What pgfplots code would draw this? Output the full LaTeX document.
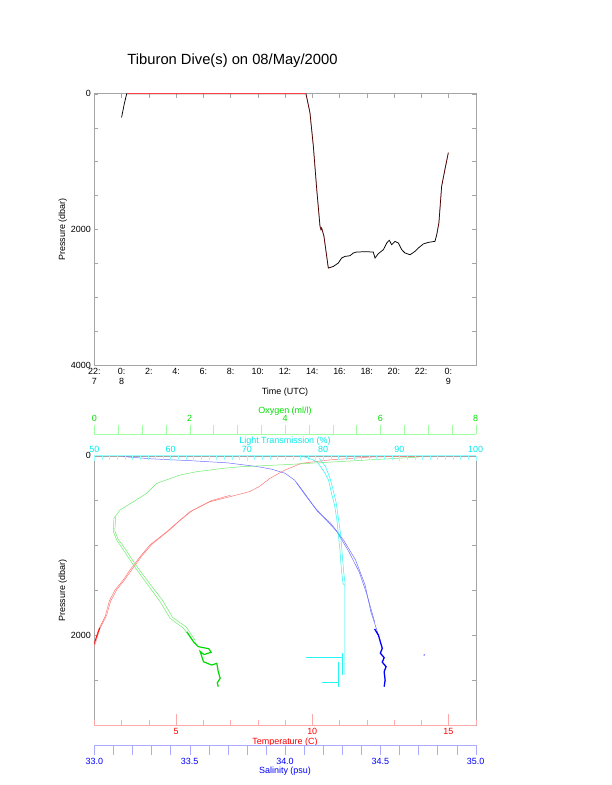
\documentclass[border=0pt]{standalone}
\usepackage{pgfplots}
\pgfplotsset{compat=1.18}
\usepackage{fontspec}
\setmainfont{Liberation Sans}
\definecolor{axgray}{RGB}{165,165,165}
\definecolor{templine}{RGB}{255,170,170}
\definecolor{templab}{RGB}{255,0,0}
\definecolor{tempdata}{RGB}{255,120,120}
\definecolor{oxyline}{RGB}{160,255,160}
\definecolor{oxylab}{RGB}{0,225,0}
\definecolor{oxydata}{RGB}{110,235,110}
\definecolor{salline}{RGB}{170,170,255}
\definecolor{sallab}{RGB}{0,0,255}
\definecolor{saldata}{RGB}{110,110,255}
\definecolor{lightline}{RGB}{150,255,255}
\definecolor{lightlab}{RGB}{0,235,235}
\definecolor{lightdata}{RGB}{40,245,245}
\begin{document}
\begin{tikzpicture}
\useasboundingbox (0,0) rectangle (612bp,785bp);
\pgfplotsset{every axis/.append style={scale only axis, font=\fontsize{9}{10}\selectfont,
  /pgf/number format/assume math mode=true, /pgf/number format/1000 sep={}},
  botbox/.style={at={(94.3bp,60bp)}, anchor=south west, width=381.4bp, height=269.3bp,
  ymin=0, ymax=3000, y dir=reverse}}
\node[font=\fontsize{14.8}{16}\selectfont] at (232.5bp,724.3bp) {Tiburon Dive(s) on 08/May/2000};

% ---------- top plot ----------
\begin{axis}[at={(94.3bp,420bp)}, anchor=south west, width=381.4bp, height=271.3bp,
  xmin=-2, xmax=26, ymin=0, ymax=4000, y dir=reverse,
  axis line style={axgray},
  xtick={-2,0,...,24},
  xticklabels={{22:\\7},{0:\\8},{2:},{4:},{6:},{8:},{10:},{12:},{14:},{16:},{18:},{20:},{22:},{0:\\9}},
  xticklabel style={align=center},
  xtick pos=top, xticklabel pos=bottom,
  ytick={0,2000,4000}, minor ytick={500,1000,1500,2500,3000,3500},
  tick align=inside, major tick length=4bp, minor tick length=4bp, tick style={axgray},
  xlabel={Time (UTC)}, ylabel={Pressure (dbar)},
  every axis x label/.style={at={(axis description cs:0.5,-0.1006)}, anchor=center},
  every axis y label/.style={at={(axis description cs:-0.0829,0.5)}, anchor=center, rotate=90},
]
\addplot[black, line width=0.75pt] coordinates {
(0,350)(0.2,150)(0.38,0)(13.54,0)(13.83,278)(14.08,772)(14.33,1412)(14.57,1955)(14.64,2004)
(14.69,1979)(14.86,2103)(15.18,2571)(15.35,2560)(15.55,2547)(15.91,2497)(16.16,2423)(16.40,2399)
(16.77,2389)(17.01,2349)(17.26,2334)(17.9,2330)(18.48,2334)(18.61,2423)(18.85,2359)(19.22,2300)
(19.47,2201)(19.66,2162)(19.83,2226)(20.07,2177)(20.32,2201)(20.57,2300)(20.81,2349)(21.18,2374)
(21.54,2325)(21.79,2275)(22.15,2216)(22.52,2192)(23.01,2177)(23.14,2078)(23.30,1900)(23.50,1364)
(23.74,1117)(23.99,870)};
\addplot[red!75, line width=0.8pt] coordinates {(0.38,0)(13.54,0)};
\addplot[red, opacity=0.45, line width=0.5pt] coordinates {
(13.54,0)(13.83,278)(14.08,772)(14.33,1412)(14.57,1955)(14.64,2004)(14.69,1979)(14.86,2103)(15.18,2571)};
\addplot[red, opacity=0.45, line width=0.5pt] coordinates {
(23.14,2078)(23.30,1900)(23.50,1364)(23.74,1117)(23.99,870)};
\end{axis}

% ---------- bottom plot: main box ----------
\begin{axis}[botbox, xmin=0, xmax=1,
  axis line style={axgray}, xtick=\empty,
  ytick={0,2000}, minor ytick={500,1000,1500,2500},
  tick align=inside, major tick length=4bp, minor tick length=4bp, tick style={axgray},
  ylabel={Pressure (dbar)},
  every axis y label/.style={at={(axis description cs:-0.0829,0.5)}, anchor=center, rotate=90},
]
\end{axis}

% temperature data + axis
\begin{axis}[botbox, xmin=2, xmax=16, hide y axis, axis x line*=bottom,
  x axis line style={draw=templine,-},
  xtick={5,10,15}, minor xtick={2,3,...,16},
  tick align=inside, major tick length=11bp, minor tick length=5bp, tick style={draw=templine},
  xticklabel style={text=templab},
  xlabel={Temperature (C)},
  every axis x label/.style={at={(axis description cs:0.5,0)}, anchor=center, yshift=-16.7bp, text=templab},
]
\addplot[tempdata, line width=0.5pt] coordinates {
(14.4,0)(13.9,5)(12.1,15)(10.6,48)(9.6,85)(9.0,160)(8.45,252)(8.05,345)(7.7,400)(6.98,457)
(6.25,512)(5.51,624)(5.08,735)(4.66,847)(4.04,995)(3.68,1125)(3.31,1273)(3.06,1385)(2.76,1496)
(2.55,1620)(2.4,1790)(2.15,1942)(2.0,2090)(1.8,2300)(1.6,2600)};
\addplot[tempdata, line width=0.5pt] coordinates {
(7.0,440)(6.3,500)(5.6,610)(5.15,720)(4.75,830)(4.12,985)(3.76,1110)(3.4,1260)(3.12,1380)
(2.83,1490)(2.6,1620)(2.45,1780)(2.2,1930)(2.05,2080)(1.9,2200)};
\addplot[red, line width=0.8pt] coordinates {(2.2,1920)(2.1,2000)(2.0,2090)(1.9,2200)};
\end{axis}

% salinity data
\begin{axis}[botbox, xmin=33, xmax=35, hide axis]
\addplot[saldata, line width=0.5pt] coordinates {
(33.15,10)(33.3,35)(33.5,55)(33.7,80)(33.85,120)(33.93,150)(34.0,196)(34.05,271)(34.09,382)
(34.13,500)(34.17,620)(34.24,753)(34.31,950)(34.37,1162)(34.42,1440)(34.45,1738)(34.49,1997)};
\addplot[saldata, line width=0.5pt] coordinates {
(34.06,300)(34.1,420)(34.15,560)(34.2,680)(34.27,840)(34.33,1050)(34.39,1300)(34.43,1550)(34.47,1850)};
\addplot[blue, line width=1.3pt] coordinates {
(34.47,1930)(34.49,2000)(34.51,2146)(34.5,2200)(34.52,2250)(34.51,2300)(34.53,2350)(34.52,2406)
(34.525,2500)(34.52,2573)};
\addplot[only marks, mark=*, mark size=0.5pt, saldata] coordinates {(34.73,2220)};
\end{axis}

% oxygen data
\begin{axis}[botbox, xmin=0, xmax=8, hide axis]
\addplot[oxydata, line width=0.5pt] coordinates {
(6.8,15)(6.0,40)(5.0,70)(4.0,100)(3.1,122)(2.7,141)(2.15,178)(1.8,215)(1.31,308)(1.10,419)
(0.82,512)(0.54,605)(0.41,697)(0.40,847)(0.47,939)(0.61,1050)(0.82,1218)(1.10,1422)(1.38,1626)
(1.59,1812)(1.87,1923)(2.08,2072)};
\addplot[oxydata, line width=0.5pt] coordinates {
(0.45,680)(0.43,840)(0.5,930)(0.65,1040)(0.86,1210)(1.14,1410)(1.43,1610)(1.64,1800)(1.93,1910)(2.12,2060)};
\addplot[green!85!black, line width=1.2pt] coordinates {
(1.94,1960)(2.08,2072)(2.18,2127)(2.40,2150)(2.45,2190)(2.30,2215)(2.22,2180)(2.29,2295)
(2.46,2332)(2.57,2313)(2.60,2406)(2.64,2480)(2.58,2530)(2.60,2573)};
\end{axis}

% light transmission data + axis
\begin{axis}[botbox, xmin=50, xmax=100, hide y axis, axis x line*=top,
  x axis line style={draw=lightline,-},
  xtick={50,60,...,100}, minor tick num=9,
  tick align=inside, major tick length=5bp, minor tick length=4bp, tick style={draw=lightline},
  xticklabel style={text=lightlab},
  xlabel={Light Transmission (\%)},
  every axis x label/.style={at={(axis description cs:0.5,1)}, anchor=center, yshift=14.7bp, text=lightlab},
]
\addplot[lightdata, line width=0.5pt] coordinates {
(77,0)(78.5,40)(79.2,70)(80,160)(80.7,270)(81.1,420)(81.5,550)(81.8,716)(82.0,883)(82.2,1050)
(82.4,1273)(82.6,1422)(82.85,1450)(82.85,2440)};
\addplot[lightdata, line width=0.5pt] coordinates {
(79.5,30)(80.3,120)(80.9,250)(81.3,380)(81.7,520)(82.0,700)(82.3,880)(82.5,1100)(82.7,1300)(82.9,1440)};
\addplot[lightdata, line width=0.5pt] coordinates {(82.5,2200)(82.5,2440)};
\addplot[lightdata, line width=0.5pt] coordinates {(82.5,2250)(77.8,2250)};
\addplot[lightdata, line width=0.8pt] coordinates {(82.0,2295)(82.0,2573)};
\addplot[lightdata, line width=0.5pt] coordinates {(82.0,2529)(79.8,2529)};
\end{axis}

% oxygen axis
\begin{axis}[at={(94.3bp,350.7bp)}, anchor=north west, width=381.4bp, height=20bp,
  xmin=0, xmax=8, ymin=0, ymax=1, hide y axis, axis x line*=top,
  x axis line style={draw=oxyline,-},
  xtick={0,2,...,8}, minor tick num=3,
  tick align=outside, major tick length=9bp, minor tick length=9bp, tick style={draw=oxyline},
  xticklabel style={text=oxylab},
  xlabel={Oxygen (ml/l)},
  every axis x label/.style={at={(axis description cs:0.5,1)}, anchor=center, yshift=23.6bp, text=oxylab},
]
\end{axis}

% salinity axis
\begin{axis}[at={(94.3bp,40bp)}, anchor=south west, width=381.4bp, height=20bp,
  xmin=33, xmax=35, ymin=0, ymax=1, hide y axis, axis x line*=bottom,
  x axis line style={draw=salline,-},
  xtick={33,33.5,34,34.5,35}, minor tick num=4,
  tick align=outside, major tick length=10bp, minor tick length=10bp, tick style={draw=salline},
  xticklabel style={text=sallab, /pgf/number format/fixed, /pgf/number format/fixed zerofill, /pgf/number format/precision=1},
  xlabel={Salinity (psu)},
  every axis x label/.style={at={(axis description cs:0.5,0)}, anchor=center, yshift=-26bp, text=sallab},
]
\end{axis}
\end{tikzpicture}
\end{document}
